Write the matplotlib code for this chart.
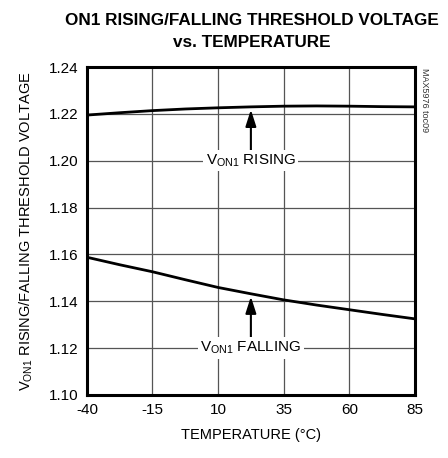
import matplotlib
matplotlib.use("Agg")
import matplotlib.pyplot as plt

# data
temps = [-40, -27.5, -15, -2.5, 10, 22.5, 35, 47.5, 60, 72.5, 85]
v_rising = [1.2195, 1.2205, 1.2214, 1.2221, 1.2226, 1.2230, 1.2233, 1.2234, 1.2233, 1.2231, 1.2230]
v_falling = [1.1588, 1.1556, 1.1526, 1.1492, 1.1459, 1.1432, 1.1406, 1.1384, 1.1364, 1.1344, 1.1325]
x_ticks = [-40, -15, 10, 35, 60, 85]
y_ticks = [1.10, 1.12, 1.14, 1.16, 1.18, 1.20, 1.22, 1.24]

plt.rcParams["font.family"] = ["Liberation Sans", "DejaVu Sans"]
plt.rcParams["axes.unicode_minus"] = False

fig = plt.figure(figsize=(4.48, 4.58), dpi=100)
ax = fig.add_axes([0.194, 0.1376, 0.732, 0.716])

ax.plot(temps, v_rising, color="black", lw=2.0, zorder=3)
ax.plot(temps, v_falling, color="black", lw=2.0, zorder=3)

ax.set_xlim(-40, 85)
ax.set_ylim(1.10, 1.24)
ax.set_xticks(x_ticks)
ax.set_xticklabels([str(t) for t in x_ticks])
ax.set_yticks(y_ticks)
ax.set_yticklabels([f"{v:.2f}" for v in y_ticks])
ax.grid(True, color="#555555", lw=0.9)
ax.tick_params(length=0, labelsize=11, pad=6)
for s in ax.spines.values():
    s.set_linewidth(2.2)
    s.set_zorder(4)

# annotations with arrows
bbox = dict(boxstyle="square,pad=0.15", fc="white", ec="none")
arrow = dict(arrowstyle="-|>,head_length=1.0,head_width=0.32", color="black", lw=1.5)
ax.annotate("", xy=(22.5, 1.2230), xytext=(22.5, 1.2025), arrowprops=arrow, zorder=5)
ax.text(22.5, 1.20, r"V$_{\mathregular{ON1}}$ RISING", ha="center", va="center",
        fontsize=11, bbox=bbox, zorder=5)
ax.annotate("", xy=(22.5, 1.1432), xytext=(22.5, 1.1225), arrowprops=arrow, zorder=5)
ax.text(22.5, 1.12, r"V$_{\mathregular{ON1}}$ FALLING", ha="center", va="center",
        fontsize=11, bbox=bbox, zorder=5)

ax.set_xlabel("TEMPERATURE (°C)", fontsize=10.5, labelpad=8)
ax.set_ylabel(r"V$_{\mathregular{ON1}}$ RISING/FALLING THRESHOLD VOLTAGE", fontsize=10.5, labelpad=10)

fig.text(0.562, 0.955, "ON1 RISING/FALLING THRESHOLD VOLTAGE", ha="center", va="center",
         fontsize=12.3, fontweight="bold")
fig.text(0.562, 0.907, "vs. TEMPERATURE", ha="center", va="center",
         fontsize=12.3, fontweight="bold")
fig.text(0.948, 0.852, "MAX5976 toc09", rotation=270, ha="center", va="top",
         fontsize=6.5, color="#333333")

fig.savefig("out.png", dpi=100)
